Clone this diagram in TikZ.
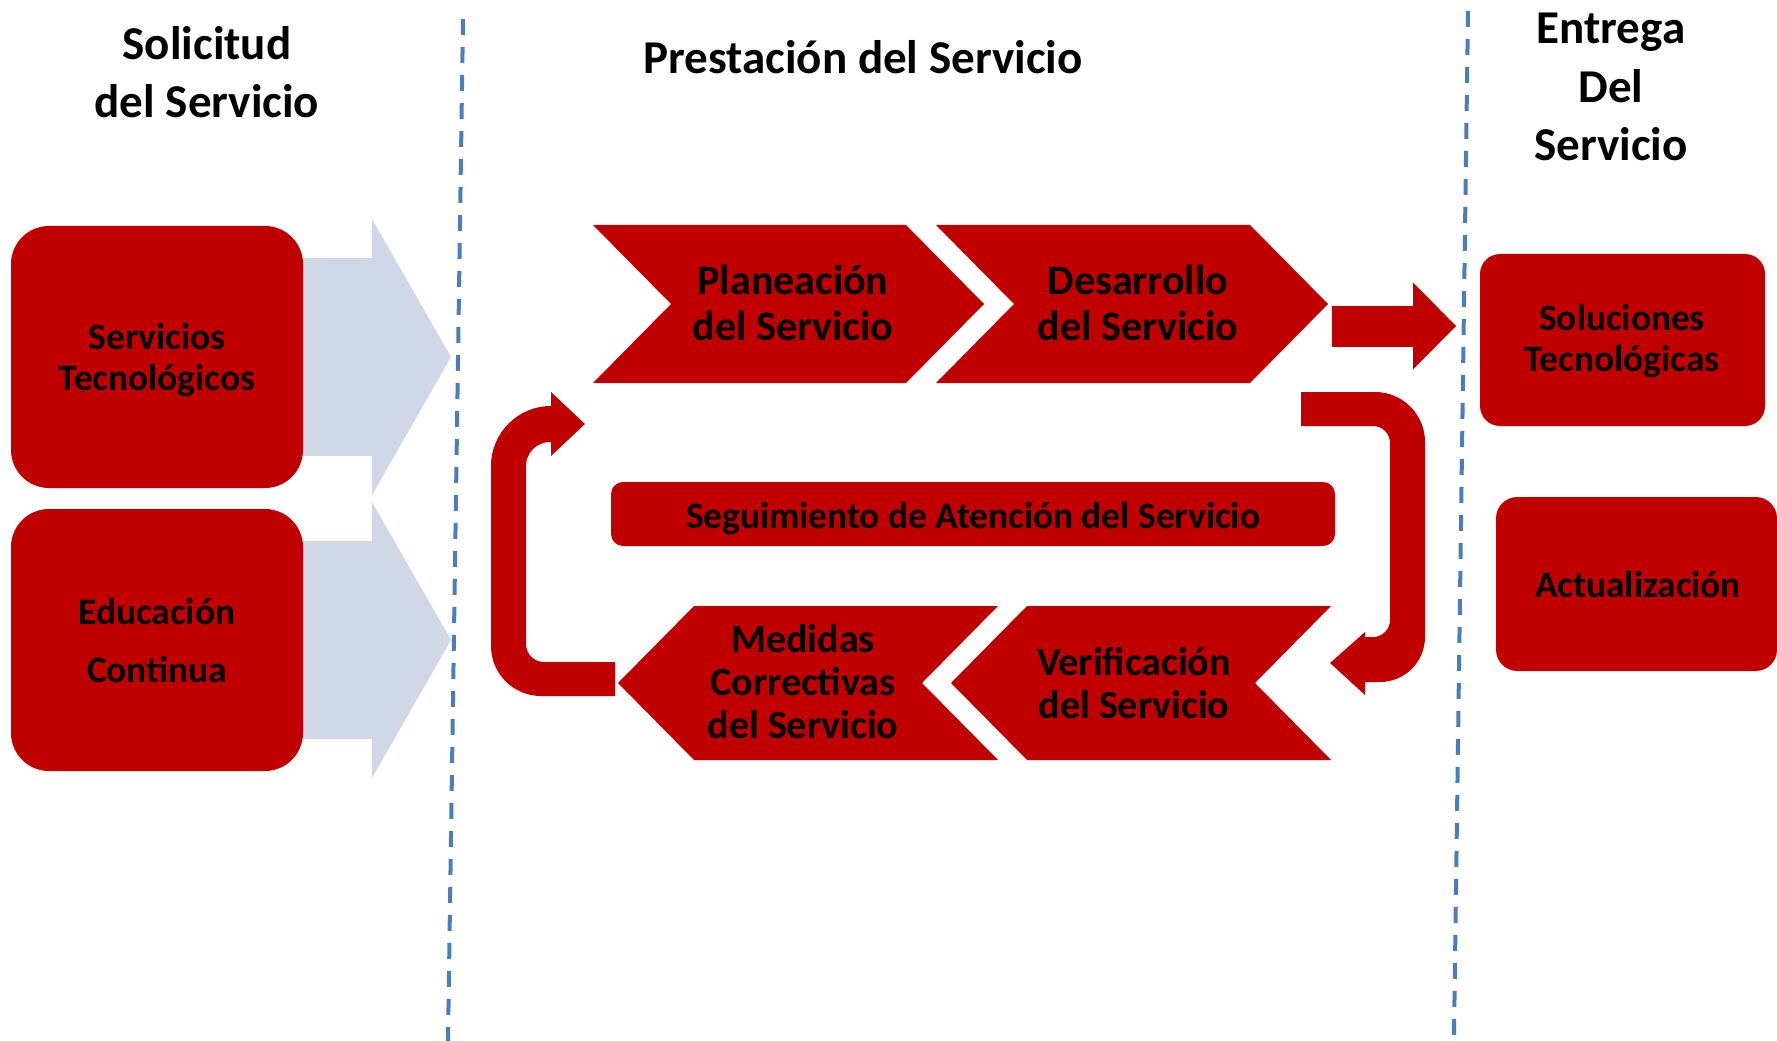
\documentclass[tikz,border=0pt]{standalone}
\usepackage{fontspec}
\setmainfont{Carlito}
\usetikzlibrary{arrows.meta,backgrounds}

\definecolor{svcred}{RGB}{192,0,0}
\definecolor{paleblue}{RGB}{208,216,232}
\definecolor{lineblue}{RGB}{74,126,187}

\tikzset{every picture/.style={line width=0.75pt}}
\tikzset{
  redfill/.style={fill=svcred, draw=none},
  divider/.style={color=lineblue, line width=3pt, dash pattern=on 12pt off 9pt},
  palearrow/.style={color=paleblue, line width=148.5pt, -{Triangle[length=59.25pt,width=207pt,line width=0pt]}},
  redarrow/.style={color=svcred, line width=30.75pt, -{Triangle[length=32.25pt,width=65.25pt,line width=0pt]}},
  headtext/.style={inner sep=0.75pt, align=center, font=\fontsize{35.3}{44}\selectfont\bfseries},
  chevtext/.style={inner sep=0.75pt, align=center, font=\fontsize{31.5}{34.5}\selectfont\bfseries},
  chevsmall/.style={inner sep=0.75pt, align=center, font=\fontsize{30}{32.25}\selectfont\bfseries},
  boxtext/.style={inner sep=0.75pt, align=center, font=\fontsize{28}{30.5}\selectfont\bfseries}
}

\begin{document}
\begin{tikzpicture}[x=0.75pt,y=0.75pt,yscale=-1,xscale=1]
\useasboundingbox (0,0) rectangle (1777,1041);

%Straight Lines: dividers
\draw [divider] (463,19) -- (448,1041) ;
\draw [divider] (1468,11) -- (1454,1035) ;

% Text Node
\node [headtext] (solicitud) at (207,72) {Solicitud\\del Servicio};
% Text Node
\node [headtext] (prestacion) at (863,57) {Prestación del Servicio};
% Text Node
\node [headtext] (entrega) at (1611,87) {Entrega\\Del\\Servicio};

%Shape: Rounded Rectangle
\fill [redfill, rounded corners=28.5pt] (11,226) rectangle (303,488) ;
%Shape: Rounded Rectangle
\fill [redfill, rounded corners=28.5pt] (11,509) rectangle (303,771) ;
% Text Node
\node [boxtext] (svc) at (157,360) {Servicios\\Tecnológicos};
% Text Node
\node [boxtext, font=\fontsize{28}{43.5}\selectfont\bfseries] (edu) at (157,641) {Educación\\Continua};

\coordinate (svctip) at (451,357);
\coordinate (edutip) at (451,640);
\begin{scope}[on background layer]
%Right Arrow
\draw [palearrow] (svc.center |- svctip) -- (svctip) ;
%Right Arrow
\draw [palearrow] (edu.center |- edutip) -- (edutip) ;
\end{scope}

%Shape: Chevron
\fill [redfill] (593,225) -- (906,225) -- (984,304) -- (906,383) -- (593,383) -- (671,304) -- cycle ;
%Shape: Chevron
\fill [redfill] (936,225) -- (1250,225) -- (1328,304) -- (1250,383) -- (936,383) -- (1014,304) -- cycle ;
%Shape: Chevron
\fill [redfill] (694,606) -- (998,606) -- (922,683) -- (998,760) -- (694,760) -- (618,683) -- cycle ;
%Shape: Chevron
\fill [redfill] (1027,606) -- (1331,606) -- (1255,683) -- (1331,760) -- (1027,760) -- (951,683) -- cycle ;

% Text Node
\node [chevtext] (plan) at (793,303) {Planeación\\del Servicio};
% Text Node
\node [chevtext] (desa) at (1138,303) {Desarrollo\\del Servicio};
% Text Node
\node [chevsmall] (medidas) at (803,682) {Medidas\\Correctivas\\del Servicio};
% Text Node
\node [chevsmall] (verif) at (1134,683) {Verificación\\del Servicio};

%Shape: Rounded Rectangle
\fill [redfill, rounded corners=9pt] (611,482) rectangle (1335,546) ;
% Text Node
\node [boxtext] (seg) at (973,519) {Seguimiento de Atención del Servicio};

%Shape: U-Turn Arrow
\fill [redfill] (1301,392) -- (1375,392) arc[start angle=-90, end angle=0, radius=50] -- (1425,637) arc[start angle=0, end angle=90, radius=45] -- (1365,682) -- (1365,695) -- (1330,663) -- (1365,632) -- (1365,637) -- (1373,637) arc[start angle=90, end angle=0, radius=17] -- (1390,443) arc[start angle=0, end angle=-90, radius=17] -- (1301,426) -- cycle ;
%Shape: U-Turn Arrow
\fill [redfill] (615,696) -- (541,696) arc[start angle=90, end angle=180, radius=50] -- (491,466) arc[start angle=180, end angle=270, radius=60] -- (551,392) -- (585,424) -- (551,456) -- (551,442) -- (550,442) arc[start angle=270, end angle=180, radius=24] -- (526,644) arc[start angle=180, end angle=90, radius=18] -- (615,662) -- cycle ;

%Shape: Rounded Rectangle
\fill [redfill, rounded corners=15pt] (1480,254) rectangle (1765,426) ;
%Shape: Rounded Rectangle
\fill [redfill, rounded corners=16pt] (1496,497) rectangle (1777,671) ;
% Text Node
\node [boxtext] (sol) at (1622,341) {Soluciones\\Tecnológicas};
% Text Node
\node [boxtext] (act) at (1638,585) {Actualización};

%Straight Lines: delivery arrow
\coordinate (outstart) at (1332,326);
\coordinate (outtip) at (1456,326);
\draw [redarrow] (outstart) -- (outtip) ;

\end{tikzpicture}
\end{document}
